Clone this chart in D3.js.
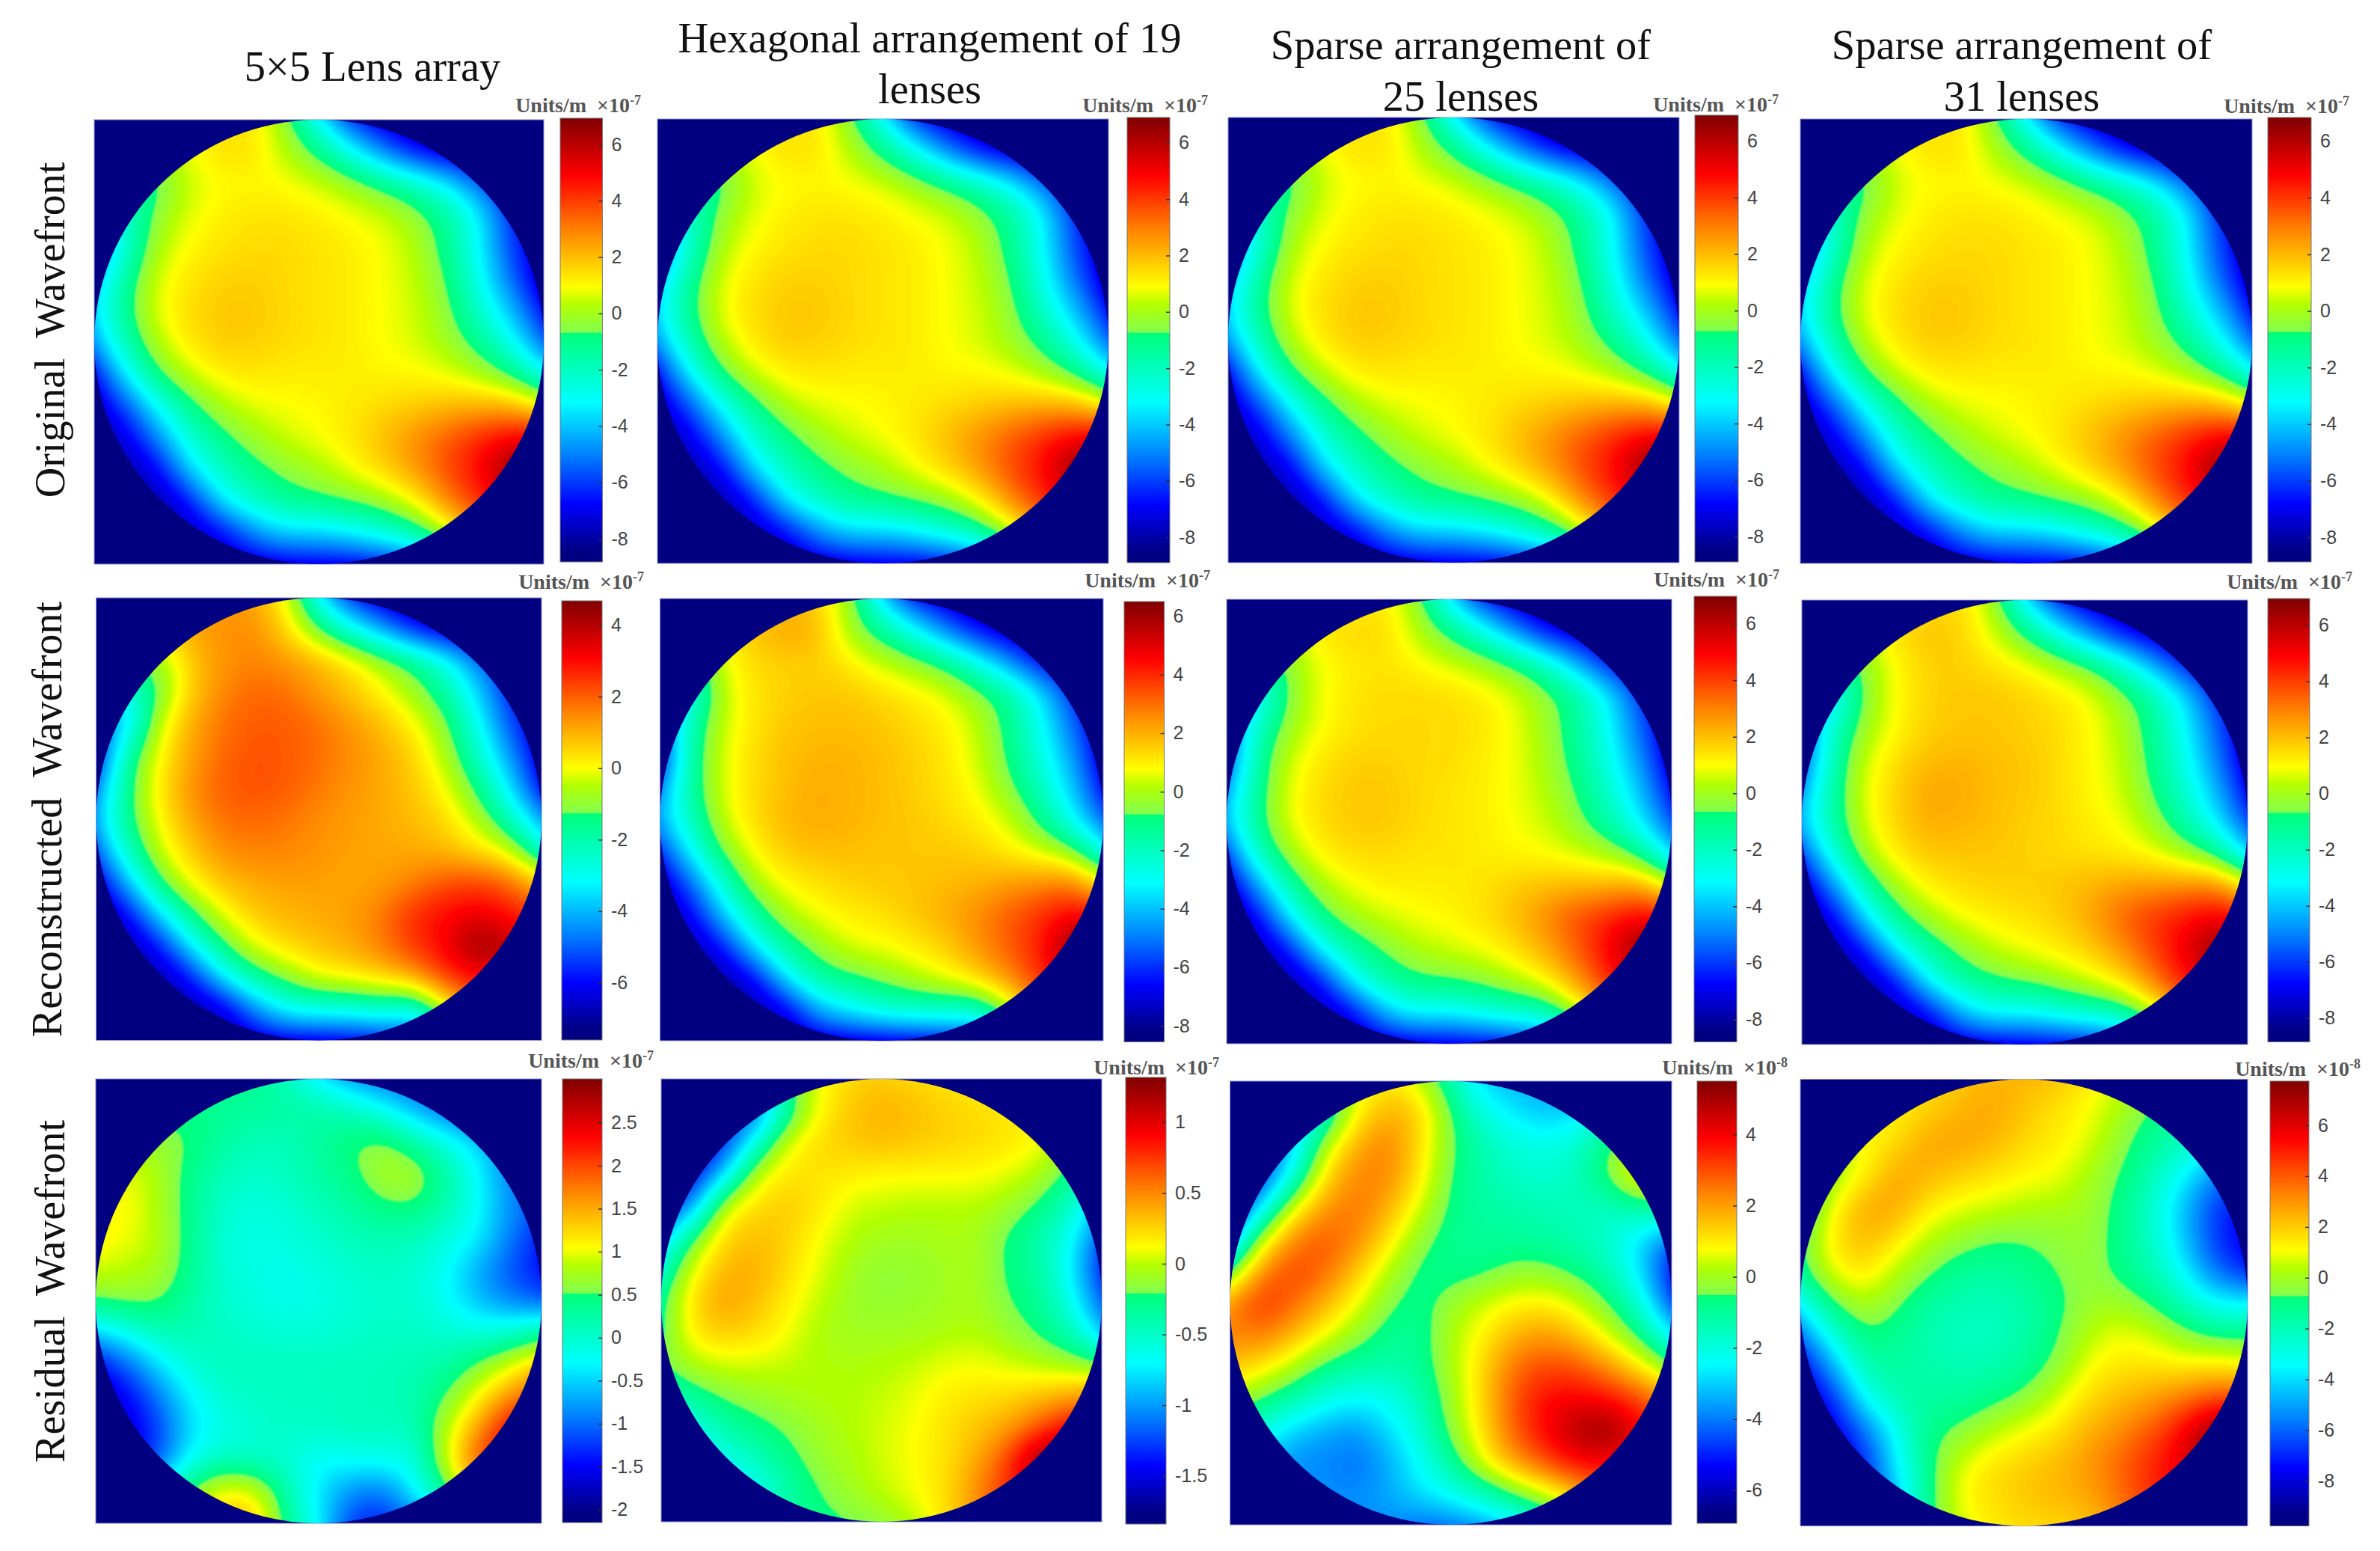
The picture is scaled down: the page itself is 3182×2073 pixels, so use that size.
<!DOCTYPE html>
<html>
<head>
<meta charset="utf-8">
<script src="https://cdn.jsdelivr.net/npm/d3@7/dist/d3.min.js"></script>
<style>
  html, body { margin: 0; background: #fff; }
  svg { display: block; }
</style>
</head>
<body>
<svg id="chart" width="3182" height="2073"></svg>
<script>
// wavefront maps on a 15x15 grid (left to right, top to bottom)
// values are percent of the span of that panel's own colorbar
var originalLevels = [
  52,55,58,62,65,65,54,37,18,10,6,5,5,5,5,
  50,54,58,62,66,65,58,50,38,24,13,8,6,5,5,
  40,44,50,60,62,63,62,60,56,50,44,35,22,10,6,
  30,42,55,61,64,65,65,64,62,60,55,48,36,16,8,
  20,42,58,63,65,66,66,65,64,62,58,49,36,18,8,
  30,48,61,65,67,67,66,65,64,62,59,52,38,22,8,
  34,50,62,66,68,68,66,65,64,62,60,54,42,30,14,
  28,46,59,65,68,67,66,65,64,62,60,56,49,38,22,
  14,36,52,60,64,65,64,64,64,63,63,61,57,50,38,
  8,20,38,50,58,61,62,63,64,66,67,69,70,70,62,
  5,10,26,42,50,56,60,62,65,69,74,79,84,88,90,
  5,6,12,34,44,50,54,57,62,67,73,81,87,100,100,
  5,5,6,14,36,44,49,51,53,56,63,75,84,90,100,
  5,5,5,8,12,26,33,32,36,41,47,60,73,82,86,
  5,5,5,5,8,10,12,13,13,15,20,30,40,50,50
];
var reconLens5x5 = [
  64,65,67,69,72,72,62,37,18,10,6,5,5,5,5,
  60,64,67,72,74,74,66,52,39,27,14,8,6,5,5,
  50,52,55,68,73,75,73,70,65,57,50,39,24,12,6,
  30,38,52,68,75,78,77,72,68,63,56,47,33,16,8,
  20,32,61,71,77,79,79,77,73,69,63,54,38,20,8,
  15,48,63,72,78,80,79,77,74,71,67,57,43,27,10,
  25,50,65,74,79,80,79,76,73,71,68,62,50,34,14,
  30,50,63,72,77,78,76,74,72,71,69,66,58,44,28,
  22,44,60,68,74,75,75,73,72,71,71,69,65,60,42,
  10,30,52,63,69,71,72,72,71,72,75,80,82,78,68,
  5,12,34,50,62,68,70,71,72,76,84,87,89,86,81,
  5,6,14,36,51,62,66,69,71,76,83,88,100,94,90,
  5,5,6,14,36,48,55,62,64,67,72,83,86,90,90,
  5,5,5,6,8,26,38,40,40,43,37,62,76,81,81,
  5,5,5,5,7,10,13,13,14,16,20,30,40,50,50
];
var reconHex19 = [
  60,62,64,65,69,67,56,34,16,10,6,5,5,5,5,
  55,58,62,69,72,70,56,48,38,24,13,8,6,5,5,
  40,45,62,66,67,67,64,59,55,50,39,26,13,7,5,
  25,38,59,65,67,68,68,66,64,61,55,48,35,18,7,
  20,46,60,65,68,69,69,68,66,64,59,50,38,23,8,
  15,48,61,66,69,70,70,69,67,65,60,51,40,28,10,
  26,48,61,66,69,71,70,69,67,65,62,54,44,32,14,
  30,44,60,66,70,71,70,69,68,66,64,60,50,37,22,
  18,37,54,63,68,69,69,68,68,68,67,64,60,55,38,
  8,22,42,58,63,65,67,68,68,69,70,72,74,76,64,
  5,12,32,47,58,62,64,65,68,71,74,79,83,88,86,
  5,6,14,36,48,55,61,62,64,67,73,79,84,100,100,
  5,5,6,12,36,48,51,54,58,62,67,74,84,90,96,
  5,5,5,6,10,30,36,42,44,44,42,58,73,81,86,
  5,5,5,5,7,10,12,13,14,15,20,30,40,50,50
];
var reconSparse25 = [
  55,58,60,62,63,65,55,36,18,10,6,5,5,5,5,
  52,55,60,65,67,66,58,50,40,26,13,8,6,5,5,
  40,44,55,62,64,65,63,60,57,52,43,29,14,8,5,
  25,34,54,62,65,66,66,66,64,61,55,48,36,18,7,
  20,44,56,62,65,66,66,66,65,62,56,48,37,22,8,
  20,48,60,65,67,67,66,66,64,62,57,49,39,26,9,
  28,49,62,66,68,68,66,65,64,62,58,52,42,31,14,
  32,50,62,66,68,68,66,65,64,62,60,54,46,35,20,
  20,44,57,64,66,66,65,65,64,63,62,60,57,49,32,
  8,28,47,58,62,64,64,64,65,67,69,69,70,72,60,
  5,12,36,50,57,60,62,63,65,69,74,81,84,88,86,
  5,6,15,38,47,53,58,60,62,65,71,78,88,100,100,
  5,5,6,14,38,47,51,52,54,58,63,73,84,90,96,
  5,5,5,7,12,31,38,36,40,43,44,58,73,81,86,
  5,5,5,5,7,10,12,13,14,15,20,30,40,50,50
];
var reconSparse31 = [
  55,58,60,63,65,66,57,36,17,10,6,5,5,5,5,
  52,55,60,66,69,67,60,50,38,24,13,8,6,5,5,
  40,44,55,63,67,67,65,62,57,52,42,28,14,8,5,
  25,34,54,63,67,68,68,67,65,62,55,47,34,17,7,
  20,43,56,63,67,68,68,67,66,63,58,49,37,22,8,
  20,46,60,66,69,70,69,68,66,63,59,50,39,25,9,
  28,47,62,67,72,71,69,68,66,63,60,52,42,30,13,
  32,47,61,67,71,70,69,67,66,64,62,56,46,35,20,
  20,41,57,65,68,68,68,67,66,65,64,62,57,50,33,
  8,26,46,58,64,66,67,67,68,70,72,73,74,76,64,
  5,11,34,49,57,62,64,65,67,71,78,83,86,89,86,
  5,6,14,37,47,54,59,62,64,67,73,81,89,100,100,
  5,5,6,14,38,47,51,53,56,60,65,75,86,90,96,
  5,5,5,7,12,30,38,36,40,43,45,58,73,81,86,
  5,5,5,5,7,10,12,13,14,15,20,30,40,50,50
];
var residualLens5x5 = [
  50,50,50,50,50,49,44,36,28,24,20,18,16,16,16,
  50,50,50,50,48,48,47,47,44,38,30,22,18,16,16,
  50,55,55,52,47,44,44,47,52,55,47,40,32,24,18,
  60,62,57,49,44,42,44,47,50,57,58,47,37,24,18,
  62,63,57,49,42,40,41,44,47,51,52,46,37,26,20,
  64,62,58,49,40,39,40,42,44,45,44,40,36,24,15,
  60,58,57,49,41,39,38,40,42,43,42,37,28,20,14,
  52,54,53,46,42,40,38,39,41,42,42,37,30,24,20,
  32,38,45,45,43,42,41,41,42,43,43,42,40,42,48,
  12,22,34,42,44,44,44,44,44,44,45,46,53,60,68,
  8,12,24,36,42,43,43,43,44,44,45,52,62,74,81,
  8,10,18,34,38,42,43,43,44,44,44,58,72,90,90,
  8,10,20,38,43,42,41,36,38,39,38,60,81,90,90,
  8,20,40,54,65,62,46,34,25,22,36,50,68,76,76,
  10,30,50,60,69,69,48,36,18,15,22,30,45,60,60
];
var residualHex19 = [
  20,25,30,40,50,62,66,68,66,65,63,62,60,58,56,
  10,15,20,18,46,63,68,71,69,67,66,65,62,60,56,
  10,12,14,40,62,66,68,69,68,67,66,65,63,56,50,
  10,10,32,60,65,65,64,63,63,63,63,61,58,50,42,
  12,26,61,66,68,65,60,59,58,58,58,56,51,43,30,
  30,52,67,69,67,62,58,56,56,57,57,51,46,38,20,
  42,62,70,71,66,61,56,54,54,56,57,51,47,36,16,
  50,66,73,69,64,59,55,54,55,56,57,52,49,39,22,
  50,65,68,66,62,57,56,56,56,57,58,55,51,45,30,
  53,58,60,60,59,58,57,58,59,61,62,60,58,56,52,
  42,49,53,55,57,58,58,59,61,64,65,66,68,71,74,
  30,38,47,50,53,56,58,60,62,65,68,71,79,88,90,
  25,32,38,44,50,55,57,60,62,65,70,81,100,100,100,
  25,30,34,36,46,52,56,59,62,65,74,84,90,100,100,
  30,34,38,44,48,50,52,54,58,65,73,81,86,90,90
];
var residualSparse25 = [
  20,25,35,50,60,65,60,46,32,30,28,26,24,24,24,
  20,25,30,40,63,71,68,52,40,34,30,33,40,45,50,
  15,20,30,58,71,76,66,53,45,41,39,42,52,60,60,
  12,15,40,66,75,75,65,51,46,43,41,44,53,66,65,
  10,35,62,73,77,71,60,50,47,46,45,44,43,47,50,
  25,60,75,80,75,65,54,49,48,48,47,45,42,33,22,
  52,75,82,78,68,58,50,49,50,54,54,50,45,34,14,
  75,84,78,70,62,53,49,55,60,63,64,60,52,41,20,
  75,76,70,62,55,49,48,58,63,70,73,68,60,50,36,
  68,65,58,50,47,46,48,57,66,77,81,80,73,64,52,
  58,52,46,40,36,38,44,56,66,80,87,88,86,81,73,
  45,40,32,28,26,33,41,54,65,79,88,96,100,88,81,
  35,32,25,25,22,28,37,48,62,73,81,88,88,86,81,
  30,28,26,26,25,28,34,38,44,52,60,70,77,81,81,
  28,26,26,26,26,26,23,24,28,34,40,50,60,68,68
];
var residualSparse31 = [
  60,60,62,63,65,68,70,70,68,65,60,56,52,50,50,
  60,60,62,63,67,70,72,68,65,62,57,51,48,46,44,
  55,58,62,66,72,72,70,66,64,61,54,48,44,40,36,
  48,55,63,72,70,67,65,63,62,57,52,45,36,24,20,
  45,62,72,72,64,61,60,58,57,56,50,42,30,18,12,
  50,65,70,65,58,55,52,52,54,55,50,43,31,17,12,
  50,62,66,58,53,48,47,49,52,55,50,45,36,22,15,
  37,52,58,53,47,45,44,46,50,55,56,51,44,36,36,
  24,40,52,49,45,43,43,46,51,58,62,60,54,50,50,
  12,28,46,47,46,45,45,48,53,62,65,65,64,65,63,
  8,15,38,46,47,47,50,53,60,66,69,72,76,81,81,
  8,10,22,38,50,53,58,62,65,70,74,79,88,100,100,
  8,10,15,36,50,60,65,67,69,73,78,84,90,100,100,
  8,10,15,30,49,63,66,68,70,71,77,84,88,90,90,
  10,15,20,35,50,60,64,66,66,68,73,79,84,86,86
];
var panelLevels = [
  originalLevels, originalLevels, originalLevels, originalLevels,
  reconLens5x5, reconHex19, reconSparse25, reconSparse31,
  residualLens5x5, residualHex19, residualSparse25, residualSparse31
];

// colorbar limits and ticks of every panel
var barLow  = [-8.82, -8.9, -8.9, -8.87, -7.6, -8.55, -8.8, -8.85, -2.15, -1.84, -6.93, -9.77];
var barHigh = [6.93, 6.9, 6.92, 6.84, 4.68, 6.5, 6.97, 6.95, 3.01, 1.317, 5.5, 7.74];
var ticksEven8 = [-8, -6, -4, -2, 0, 2, 4, 6];
var ticksEven6 = [-6, -4, -2, 0, 2, 4];
var barTicks = [
  ticksEven8, ticksEven8, ticksEven8, ticksEven8,
  ticksEven6, ticksEven8, ticksEven8, ticksEven8,
  [-2, -1.5, -1, -0.5, 0, 0.5, 1, 1.5, 2, 2.5], [-1.5, -1, -0.5, 0, 0.5, 1], ticksEven6, ticksEven8
];
var barExponent = ["-7", "-7", "-7", "-7", "-7", "-7", "-7", "-7", "-7", "-7", "-8", "-8"];

// the modified jet map used in the figure, with its step in the green
var jetStops = [0, 3, 13, 24, 36, 51.6, 51.7, 58, 62, 75, 87, 100];
var jetColors = ["#000080", "#000088", "#0000ff", "#0080ff", "#00ffff", "#00ff78", "#80ff50", "#b4ff00", "#ffff00", "#ff8000", "#ff0000", "#800000"];

var columnTitles = [
  { lines: ["5×5 Lens array"], x: 498, y: [108] },
  { lines: ["Hexagonal arrangement of 19", "lenses"], x: 1243, y: [70, 138] },
  { lines: ["Sparse arrangement of", "25 lenses"], x: 1953, y: [79, 148] },
  { lines: ["Sparse arrangement of", "31 lenses"], x: 2703, y: [79, 148] }
];
var rowTitles = [
  { text: "Original  Wavefront", x: 86, y: 441 },
  { text: "Reconstructed  Wavefront", x: 82, y: 1095 },
  { text: "Residual  Wavefront", x: 86, y: 1726 }
];

// layout in page pixels: x0, x1, y0, y1
var imageBoxes = [
  [126, 727, 160, 754], [879, 1482, 159, 753], [1642, 2245, 157, 752], [2407, 3011, 159, 753],
  [128.6, 724, 799, 1390.5], [882.4, 1475, 800, 1391], [1640, 2235, 801, 1395], [2409, 3005, 802, 1396],
  [128, 724, 1442, 2036], [884, 1473, 1442, 2034], [1644.5, 2235, 1445, 2038], [2407, 3005, 1442.5, 2039.5]
];
var barBoxes = [
  [749, 805.4, 158, 751], [1507, 1564, 157, 752], [2266, 2324, 154, 751], [3032, 3090, 157, 751],
  [751, 805, 803, 1390], [1503, 1556.5, 804, 1392.6], [2265, 2322, 797, 1392.6], [3032, 3088, 800, 1392.6],
  [752, 805, 1442, 2035], [1505, 1559, 1440, 2037], [2269, 2322, 1445, 2036], [3035, 3087, 1445, 2039.5]
];
var headerEnds = [[857, 150], [1615, 150], [2378, 149], [3141, 151], [861, 787], [1618, 785], [2379, 784], [3145, 787], [874, 1427], [1630, 1436], [2390, 1436], [3156, 1438]];

var gridSize = 15;
var shadeSteps = 5; // shaded display cells per grid step, like shading interp
var shadeSize = (gridSize - 1) * shadeSteps + 1;
var serif = "'Liberation Serif', 'Times New Roman', serif";
var sans = "'Liberation Sans', Arial, sans-serif";

var jet = d3.scaleLinear().domain(jetStops).range(jetColors).clamp(true);
var thresholds = d3.range(0, 100.5, 0.5);
var contours = d3.contours().size([shadeSize, shadeSize]).thresholds(thresholds);

// smooth display surface for one panel, rows first and then columns
function shadeSurface(levels) {
  var rows = d3.range(gridSize).map(function(j) {
    var spline = d3.interpolateBasis(levels.slice(j * gridSize, (j + 1) * gridSize));
    return d3.range(shadeSize).map(i => spline(i / (shadeSize - 1)));
  });
  var surface = new Array(shadeSize * shadeSize);
  d3.range(shadeSize).forEach(function(i) {
    var spline = d3.interpolateBasis(rows.map(r => r[i]));
    d3.range(shadeSize).forEach(function(j) {
      surface[j * shadeSize + i] = spline(j / (shadeSize - 1));
    });
  });
  return surface;
}

var svg = d3.select("#chart");
var defs = svg.append("defs");

defs.append("filter")
    .attr("id", "soften")
    .attr("x", "-5%").attr("y", "-5%")
    .attr("width", "110%").attr("height", "110%")
  .append("feGaussianBlur")
    .attr("stdDeviation", 1.2);

var gradient = defs.append("linearGradient")
    .attr("id", "jetBar")
    .attr("x1", 0).attr("y1", 1)
    .attr("x2", 0).attr("y2", 0);
gradient.selectAll("stop")
  .data(jetStops)
  .join("stop")
    .attr("offset", d => d + "%")
    .attr("stop-color", (d, i) => jetColors[i]);

panelLevels.forEach(function(levels, p) {
  var box = imageBoxes[p];
  var bar = barBoxes[p];

  // surface sample i sits at i + 0.5 in contour coordinates
  var x = d3.scaleLinear().domain([0.5, shadeSize - 0.5]).range([box[0], box[1]]);
  var y = d3.scaleLinear().domain([0.5, shadeSize - 0.5]).range([box[2], box[3]]);
  var path = d3.geoPath(d3.geoTransform({
    point: function(px, py) { this.stream.point(x(px), y(py)); }
  }));

  var g = svg.append("g").attr("class", "panel");

  g.append("rect")
    .attr("x", box[0]).attr("y", box[2])
    .attr("width", box[1] - box[0]).attr("height", box[3] - box[2])
    .attr("fill", "#000080")
    .attr("stroke", "#8f8fd0")
    .attr("stroke-width", 1);

  defs.append("clipPath")
      .attr("id", "disc" + p)
    .append("ellipse")
      .attr("cx", (box[0] + box[1]) / 2)
      .attr("cy", (box[2] + box[3]) / 2)
      .attr("rx", (box[1] - box[0]) / 2)
      .attr("ry", (box[3] - box[2]) / 2);

  g.append("g")
      .attr("clip-path", "url(#disc" + p + ")")
    .append("g")
      .attr("filter", "url(#soften)")
    .selectAll("path")
    .data(contours(shadeSurface(levels)))
    .join("path")
      .attr("d", path)
      .attr("fill", d => jet(d.value));

  // colorbar
  g.append("rect")
    .attr("x", bar[0]).attr("y", bar[2])
    .attr("width", bar[1] - bar[0]).attr("height", bar[3] - bar[2])
    .attr("fill", "url(#jetBar)")
    .attr("stroke", "#777")
    .attr("stroke-width", 1);

  var barScale = d3.scaleLinear().domain([barLow[p], barHigh[p]]).range([bar[3], bar[2]]);
  var axis = g.append("g")
      .attr("transform", "translate(" + bar[1] + ",0)")
      .call(d3.axisRight(barScale)
        .tickValues(barTicks[p])
        .tickSizeInner(-5)
        .tickSizeOuter(0)
        .tickPadding(12)
        .tickFormat(d => String(d)));
  axis.select(".domain").remove();
  axis.selectAll("line").attr("stroke", "#333").attr("stroke-width", 1.5);
  axis.selectAll("text")
    .attr("font-family", sans)
    .attr("font-size", 25)
    .attr("fill", "#444");

  var header = g.append("text")
    .attr("x", headerEnds[p][0])
    .attr("y", headerEnds[p][1])
    .attr("text-anchor", "end")
    .attr("font-family", serif)
    .attr("font-size", 28)
    .attr("font-weight", "bold")
    .attr("fill", "#555")
    .style("white-space", "pre");
  header.append("tspan").text("Units/m  ×10");
  header.append("tspan")
    .attr("dy", -10)
    .attr("font-size", 18)
    .text(barExponent[p]);
});

columnTitles.forEach(function(t) {
  t.lines.forEach(function(line, i) {
    svg.append("text")
      .attr("x", t.x)
      .attr("y", t.y[i])
      .attr("text-anchor", "middle")
      .attr("font-family", serif)
      .attr("font-size", 56.5)
      .attr("fill", "#111")
      .text(line);
  });
});

rowTitles.forEach(function(t) {
  svg.append("text")
    .attr("transform", "translate(" + t.x + "," + t.y + ") rotate(-90)")
    .attr("text-anchor", "middle")
    .attr("font-family", serif)
    .attr("font-size", 56)
    .attr("fill", "#111")
    .style("white-space", "pre")
    .text(t.text);
});
</script>
</body>
</html>
